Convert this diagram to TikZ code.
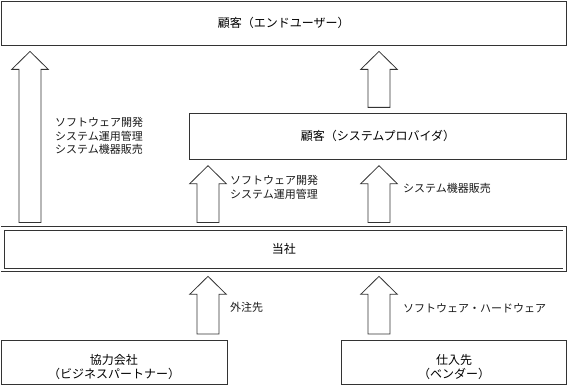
\documentclass[tikz,border=0pt]{standalone}
\usepackage{fontspec}
\setmainfont{Noto Sans CJK JP}
\usetikzlibrary{calc}
\tikzset{
  box/.style={draw=black!80, line width=0.8pt, fill=white, inner sep=0pt,
    font=\fontsize{12}{14.5}\selectfont, align=center},
  lbl/.style={anchor=west, inner sep=0pt, align=left,
    font=\fontsize{11}{13.5}\selectfont, text=black!90},
  boxtxt/.style={inner sep=0pt, align=center, font=\fontsize{12}{13.5}\selectfont},
  blockarr/.style={draw=black!80, line width=0.8pt, fill=white, line join=miter}
}
\newcommand\uparr[3]{%
  \draw[blockarr] let \p1=(#1.north), \p2=(#2.south) in
    ({(#3-11)*1pt},{\y1+5.5pt}) -- ({(#3-11)*1pt},{\y2-24pt}) --
    ({(#3-18.3)*1pt},{\y2-24pt}) -- ({#3*1pt},{\y2-6pt}) --
    ({(#3+18.3)*1pt},{\y2-24pt}) -- ({(#3+11)*1pt},{\y2-24pt}) --
    ({(#3+11)*1pt},{\y1+5.5pt}) -- cycle;}
\begin{document}
\begin{tikzpicture}[x=1pt,y=1pt]
\useasboundingbox (0,0) rectangle (568,386);
% boxes
\node[box, minimum width=565.5pt, minimum height=44pt] (enduser) at (283.75,363) {顧客（エンドユーザー）};
\node[box, minimum width=377pt, minimum height=46pt] (provider) at (378,249.7) {顧客（システムプロバイダ）};
\node[box, double=white, double distance=2.7pt, minimum width=562pt, minimum height=41.5pt] (us) at (283.75,136.8) {当社};
\node[box, minimum width=226pt, minimum height=44.5pt] (partner) at (114,23.8) {};
\node[boxtxt] (partnertxt) at ($(partner.center)+(0,-5)$) {協力会社\\（ビジネスパートナー）};
\node[box, minimum width=225pt, minimum height=44.5pt] (vendor) at (454,23.8) {};
\node[boxtxt] (vendortxt) at ($(vendor.center)+(0,-5)$) {仕入先\\（ベンダー）};
% arrows
\uparr{us}{enduser}{30}
\uparr{provider}{enduser}{379}
\uparr{us}{provider}{208}
\uparr{us}{provider}{379}
\uparr{partner}{us}{208}
\uparr{vendor}{us}{379}
% labels
\node[lbl] (l1) at (55,250) {ソフトウェア開発\\システム運用管理\\システム機器販売};
\node[lbl] (l2) at (230,198.5) {ソフトウェア開発\\システム運用管理};
\node[lbl] (l3) at (403,198) {システム機器販売};
\node[lbl] (l4) at (230,79) {外注先};
\node[lbl] (l5) at (403,78) {ソフトウェア・ハードウェア};
\end{tikzpicture}
\end{document}
